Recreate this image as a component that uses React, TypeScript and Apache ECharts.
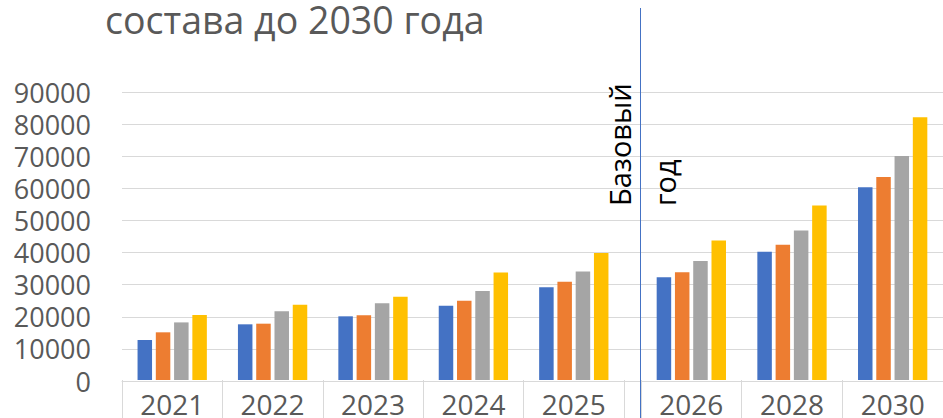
import React, { useEffect, useRef } from "react";
import * as echarts from "echarts";

// Categories (split at the base year line)
const leftYears = ["2021", "2022", "2023", "2024", "2025"];
const rightYears = ["2026", "2028", "2030"];

// Series
const seriesNames = ["Ряд 1", "Ряд 2", "Ряд 3", "Ряд 4"];
const seriesColors = ["#4472C4", "#ED7D31", "#A5A5A5", "#FFC000"];

const series1Left = [12500, 17400, 19900, 23200, 29000];
const series2Left = [14900, 17600, 20200, 24800, 30700];
const series3Left = [18000, 21500, 24000, 27800, 33900];
const series4Left = [20300, 23500, 26000, 33600, 39700];

const series1Right = [32100, 40100, 60200];
const series2Right = [33700, 42300, 63400];
const series3Right = [37200, 46700, 70000];
const series4Right = [43600, 54500, 82100];

const leftValues = [series1Left, series2Left, series3Left, series4Left];
const rightValues = [series1Right, series2Right, series3Right, series4Right];

// Value axis
const yMin = 0;
const yMax = 90000;
const yInterval = 10000;

// Texts
const titleText = "состава до 2030 года";
const baseYearLine1 = "Базовый";
const baseYearLine2 = "год";

const FONT = "'Open Sans', 'Noto Sans', sans-serif";
const GRAY_TEXT = "#595959";
const GRID_LINE = "#D9D9D9";

export default function App() {
  const ref = useRef<HTMLDivElement>(null);

  useEffect(() => {
    if (!ref.current) return;
    const chart = echarts.init(ref.current, undefined, { renderer: "svg" });

    const top = 92;
    const bottom = 37;

    const hiddenY = (gridIndex: number) => ({
      type: "value" as const,
      gridIndex,
      min: yMin,
      max: yMax,
      interval: yInterval,
      show: false,
    });

    const catAxisCommon = {
      type: "category" as const,
      axisLine: { show: false },
      axisTick: {
        show: true,
        length: 40,
        lineStyle: { color: GRID_LINE, width: 1 },
      },
      axisLabel: {
        color: GRAY_TEXT,
        fontSize: 28,
        fontFamily: FONT,
        margin: 10,
      },
      splitLine: { show: false },
    };

    const seriesList: any[] = [];
    leftValues.forEach((vals, i) => {
      seriesList.push({
        name: seriesNames[i],
        type: "bar",
        xAxisIndex: 1,
        yAxisIndex: 1,
        barWidth: 14.5,
        barGap: "26%",
        itemStyle: { color: seriesColors[i] },
        data: [...vals].reverse(),
      });
    });
    rightValues.forEach((vals, i) => {
      seriesList.push({
        name: seriesNames[i],
        type: "bar",
        xAxisIndex: 2,
        yAxisIndex: 2,
        barWidth: 14.5,
        barGap: "26%",
        itemStyle: { color: seriesColors[i] },
        data: vals,
      });
    });

    chart.setOption({
      animation: false,
      backgroundColor: "#ffffff",
      textStyle: { fontFamily: FONT },
      grid: [
        { left: 122, top, bottom, width: 830 },
        { left: 122, top, bottom, width: 502 },
        { left: 641, top, bottom, width: 311 },
      ],
      xAxis: [
        {
          type: "category",
          gridIndex: 0,
          data: [""],
          axisLine: { show: true, lineStyle: { color: GRID_LINE, width: 1 } },
          axisTick: { show: false },
          axisLabel: { show: false },
        },
        {
          ...catAxisCommon,
          gridIndex: 1,
          inverse: true,
          data: [...leftYears].reverse(),
        },
        {
          ...catAxisCommon,
          gridIndex: 2,
          data: rightYears,
        },
      ],
      yAxis: [
        {
          type: "value",
          gridIndex: 0,
          min: yMin,
          max: yMax,
          interval: yInterval,
          axisLine: { show: false },
          axisTick: { show: false },
          axisLabel: {
            color: GRAY_TEXT,
            fontSize: 27,
            lineHeight: 28,
            fontFamily: FONT,
            margin: 31,
            formatter: (v: number) => String(v),
          },
          splitLine: { show: true, lineStyle: { color: GRID_LINE, width: 1 } },
        },
        hiddenY(1),
        hiddenY(2),
      ],
      series: seriesList,
      graphic: [
        {
          type: "text",
          left: 105,
          top: 0,
          style: {
            text: titleText,
            fill: GRAY_TEXT,
            font: `37.5px ${FONT}`,
          },
        },
        {
          type: "line",
          shape: { x1: 640.5, y1: 8, x2: 640.5, y2: 418 },
          style: { stroke: "#4472C4", lineWidth: 1 },
          z: 100,
        },
        {
          type: "text",
          x: 619,
          y: 206,
          rotation: Math.PI / 2,
          style: {
            text: baseYearLine1,
            fill: "#000000",
            font: `29px ${FONT}`,
            textAlign: "left",
            textVerticalAlign: "middle",
          },
          z: 100,
        },
        {
          type: "text",
          x: 664,
          y: 206,
          rotation: Math.PI / 2,
          style: {
            text: baseYearLine2,
            fill: "#000000",
            font: `29px ${FONT}`,
            textAlign: "left",
            textVerticalAlign: "middle",
          },
          z: 100,
        },
      ],
    });

    return () => chart.dispose();
  }, []);

  return (
    <div
      ref={ref}
      style={{ width: 943, height: 418, position: "absolute", left: 0, top: 0 }}
    />
  );
}
